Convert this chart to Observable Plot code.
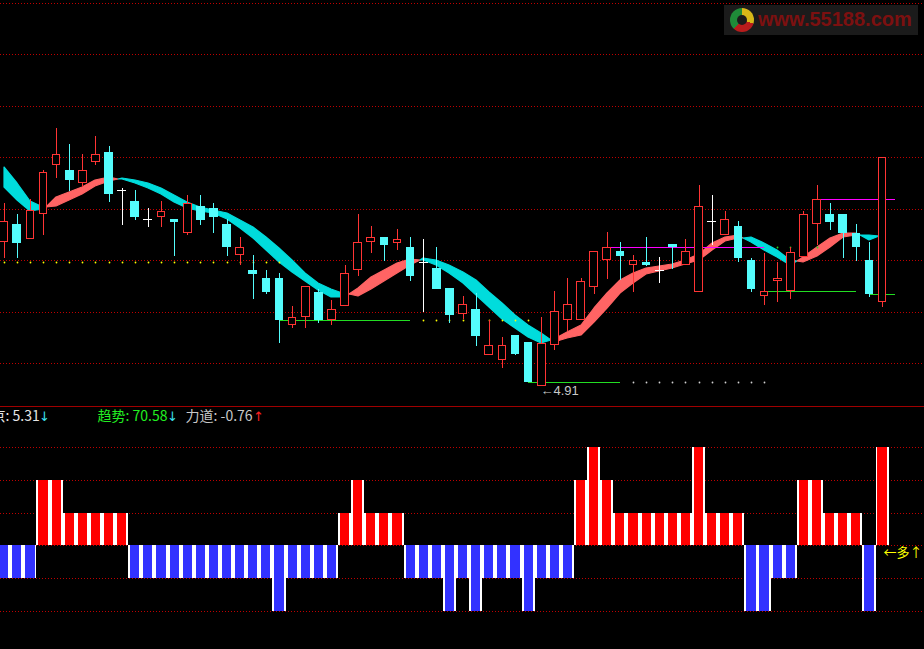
<!DOCTYPE html>
<html><head><meta charset="utf-8">
<script src="https://cdn.jsdelivr.net/npm/d3@7"></script>
<script src="https://cdn.jsdelivr.net/npm/@observablehq/plot@0.6"></script>
<style>
html,body{margin:0;padding:0;background:#000;}
#wrap{position:relative;width:924px;height:649px;overflow:hidden;background:#000;}
#main{position:absolute;left:0;top:0;width:924px;height:406px;}
#sub{position:absolute;left:0;top:406px;width:924px;height:242px;border-top:1px solid #a00000;}
#wm{position:absolute;left:724px;top:5px;width:194px;height:30px;background:#1b1b1b;}
#wm .logo{position:absolute;left:6px;top:3px;width:24px;height:24px;border-radius:50%;
 background:conic-gradient(#d8b818 0 30%, #b81c1c 0 62%, #1f8a38 0 100%);}
#wm .logo:after{content:"";position:absolute;left:7px;top:7px;width:10px;height:10px;border-radius:50%;background:#1b1b1b;}
#wm .txt{position:absolute;left:34px;top:3px;font:bold 20px "Liberation Sans",Arial,sans-serif;color:#7c1010;}
svg{display:block;}
</style></head>
<body><div id="wrap"><div id="main"></div><div id="sub"></div>
<div id="wm"><div class="logo"></div><div class="txt">www.55188.com</div></div></div>
<script>
// ---------------- data ----------------
const open  = [5.190,5.226,5.196,5.244,5.340,5.330,5.305,5.345,5.365,5.291,5.270,5.235,5.240,5.235,5.209,5.260,5.256,5.226,5.165,5.136,5.121,5.121,5.030,5.044,5.094,5.040,5.066,5.136,5.190,5.200,5.189,5.181,5.151,5.140,5.101,5.050,5.060,4.971,4.961,5.010,4.996,4.910,4.990,5.040,5.040,5.104,5.155,5.174,5.145,5.152,5.136,5.187,5.145,5.094,5.231,5.205,5.222,5.156,5.085,5.114,5.095,5.161,5.225,5.245,5.245,5.209,5.156,5.075];
const high  = [5.266,5.245,5.275,5.330,5.412,5.381,5.361,5.396,5.377,5.295,5.292,5.256,5.270,5.235,5.282,5.282,5.266,5.235,5.200,5.165,5.136,5.130,5.066,5.105,5.099,5.078,5.145,5.245,5.222,5.200,5.216,5.200,5.196,5.181,5.101,5.085,5.092,5.040,5.006,5.010,4.996,5.045,5.095,5.121,5.121,5.174,5.210,5.191,5.165,5.200,5.161,5.187,5.196,5.301,5.282,5.250,5.231,5.160,5.169,5.152,5.180,5.251,5.301,5.266,5.245,5.226,5.191,5.355];
const low   = [5.160,5.160,5.196,5.204,5.315,5.290,5.297,5.340,5.269,5.224,5.234,5.220,5.220,5.164,5.205,5.224,5.209,5.163,5.145,5.079,5.090,4.995,5.024,5.024,5.034,5.030,5.066,5.125,5.170,5.154,5.175,5.114,5.055,5.100,5.034,5.042,4.989,4.971,4.945,4.971,4.919,4.910,4.980,5.018,5.040,5.090,5.119,5.117,5.094,5.144,5.110,5.139,5.145,5.094,5.185,5.205,5.151,5.094,5.068,5.075,5.079,5.161,5.185,5.214,5.160,5.154,5.084,5.065];
const close = [5.231,5.189,5.253,5.326,5.361,5.310,5.330,5.361,5.284,5.291,5.240,5.235,5.250,5.230,5.266,5.234,5.240,5.180,5.180,5.129,5.094,5.040,5.045,5.105,5.040,5.060,5.130,5.190,5.200,5.185,5.196,5.125,5.151,5.100,5.049,5.070,5.009,4.991,4.990,4.974,4.919,4.995,5.056,5.070,5.114,5.174,5.180,5.164,5.155,5.145,5.136,5.181,5.174,5.260,5.231,5.235,5.160,5.100,5.095,5.121,5.171,5.244,5.275,5.230,5.209,5.180,5.090,5.355];
// ribbon: fast and slow average
const fast = [5.298,5.272,5.251,5.254,5.277,5.288,5.298,5.311,5.316,5.312,5.305,5.295,5.284,5.269,5.257,5.251,5.246,5.235,5.217,5.198,5.175,5.152,5.133,5.114,5.097,5.084,5.083,5.101,5.123,5.136,5.149,5.158,5.156,5.146,5.130,5.110,5.088,5.065,5.042,5.023,5.007,4.995,5.002,5.016,5.029,5.062,5.091,5.117,5.130,5.141,5.144,5.147,5.156,5.167,5.188,5.201,5.204,5.191,5.175,5.162,5.146,5.161,5.181,5.198,5.209,5.209,5.194,5.204];
const slow = [5.337,5.305,5.270,5.259,5.260,5.272,5.284,5.299,5.309,5.315,5.311,5.305,5.296,5.282,5.268,5.259,5.253,5.246,5.233,5.220,5.201,5.178,5.156,5.130,5.110,5.099,5.090,5.086,5.099,5.114,5.130,5.146,5.160,5.156,5.146,5.133,5.117,5.094,5.072,5.049,5.029,5.013,4.996,5.004,5.010,5.036,5.062,5.091,5.110,5.128,5.135,5.141,5.148,5.156,5.175,5.193,5.198,5.200,5.188,5.175,5.156,5.152,5.163,5.181,5.200,5.204,5.204,5.201];
// lower panel signal
const signal = [-1,-1,-1,2,2,1,1,1,1,1,-1,-1,-1,-1,-1,-1,-1,-1,-1,-1,-1,-2,-1,-1,-1,-1,1,2,1,1,1,-1,-1,-1,-2,-1,-2,-1,-1,-1,-2,-1,-1,-1,2,3,2,1,1,1,1,1,1,3,1,1,1,-2,-2,-1,-1,2,2,1,1,1,-2,3];
// support (green), resistance (magenta) lines and dotted continuations
const supportStart = [21,40,58,66], supportEnd = [31,47,65,68], supportPrice = [5.040,4.919,5.095,5.090];
const resistStart = [46,62], resistEnd = [58,68], resistPrice = [5.180,5.275];
const dotStart = [0,32,48,59], dotEnd = [21,40,58,62], dotPrice = [5.152,5.040,4.919,5.180];
const dotColor = ["#ffff00","#ffff00","#d0d0d0","#22dd22"];
// grids / ticks
const priceGrid = [4.955,5.055,5.155,5.255,5.355,5.455,5.555,5.655];
const signalGrid = [3,2,1,0,-1,-2];
const headerNames = ["京","趋势","力道"], headerValues = [5.31,70.58,-0.76], headerArrows = ["↓","↓","↑"];

// ---------------- build ----------------
const N = open.length;
const idx = d3.range(N);
const RED = "#ff3434", CYAN = "#54fcfc", SALMON = "#ff6464", BCYAN = "#00dcdc";
const candles = idx.map(i => ({i, open: open[i], high: high[i], low: low[i], close: close[i]}));
const colorOf = d => d.close > d.open ? RED : d.close < d.open ? CYAN : "#ffffff";
const ups = candles.filter(d => d.close > d.open);
const downs = candles.filter(d => d.close < d.open);
const flats = candles.filter(d => d.close === d.open);

// ribbon segments by which average is on top
const band = idx.map(i => ({x: i, fast: fast[i], slow: slow[i], up: fast[i] >= slow[i]}));
const segs = [];
let cur = [band[0]];
for (let k = 1; k < N; k++) {
  const a = band[k-1], b = band[k];
  if (a.up !== b.up) {
    const da = a.fast - a.slow, db = b.fast - b.slow, t = da / (da - db);
    const c = {x: a.x + t, fast: a.fast + t*(b.fast-a.fast), slow: a.slow + t*(b.slow-a.slow)};
    cur.push(c); segs.push({up: a.up, pts: cur}); cur = [c, b];
  } else cur.push(b);
}
segs.push({up: band[N-1].up, pts: cur});

const supports = supportStart.map((s,k) => ({s, e: supportEnd[k], p: supportPrice[k]}));
const resists = resistStart.map((s,k) => ({s, e: resistEnd[k], p: resistPrice[k]}));
const dots = dotStart.flatMap((s,k) => d3.range(s, dotEnd[k]+1).map(i => ({i, p: dotPrice[k], c: dotColor[k]})));
const lowest = candles.reduce((m,d) => d.low < m.low ? d : m, candles[0]);

const xDomain = [-0.282, 70.198];
const GRID = "#c00000";
const HW = 0.33;

const main = Plot.plot({
  width: 924, height: 406, margin: 0,
  x: {type: "linear", domain: xDomain, axis: null, round: true},
  y: {domain: [4.8721, 5.6605], axis: null, round: true},
  color: {type: "identity"},
  style: {background: "#000", overflow: "visible"},
  marks: [
    Plot.ruleY(priceGrid, {stroke: GRID, strokeDasharray: "1,2"}),
    ...segs.map(s => Plot.areaY(s.pts, {x: "x", y1: "fast", y2: "slow", fill: s.up ? SALMON : BCYAN, stroke: s.up ? SALMON : BCYAN, strokeWidth: 1.2})),
    Plot.dot(dots, {x: "i", y: "p", r: 0.9, fill: "c", stroke: null}),
    Plot.ruleY(supports, {y: "p", x1: "s", x2: "e", stroke: "#22dd22"}),
    Plot.ruleY(resists, {y: "p", x1: "s", x2: "e", stroke: "#ff00ff"}),
    Plot.ruleX(candles, {x: "i", y1: "low", y2: "high", stroke: colorOf}),
    // up candles: hollow red body (red block with black inside)
    Plot.rect(ups, {x1: d => d.i - HW, x2: d => d.i + HW, y1: "open", y2: "close", fill: RED}),
    Plot.rect(ups, {x1: d => d.i - HW, x2: d => d.i + HW, y1: "open", y2: "close", fill: "#000", inset: 1}),
    // down candles: solid cyan body
    Plot.rect(downs, {x1: d => d.i - HW, x2: d => d.i + HW, y1: "open", y2: "close", fill: CYAN}),
    Plot.ruleY(flats, {y: "close", x1: d => d.i - 0.35, x2: d => d.i + 0.35, stroke: "#ffffff"}),
    Plot.text([lowest], {x: "i", y: "low", text: d => "←" + d.low.toFixed(2), textAnchor: "start", lineAnchor: "middle", dx: -1, dy: 4, fill: "#c8c8c8", fontSize: 13, fontFamily: "Liberation Sans, Arial, sans-serif"})
  ]
});
document.getElementById("main").appendChild(main);

const bars = idx.map(i => ({i, v: signal[i]}));
const CJK = "Noto Sans CJK SC, sans-serif";
const headerX = [-9, 97, 185], arrowX = [44, 172, 258];
const headerFill = ["#e6e6e6", "#22ee22", "#c8c8c8"], arrowFill = ["#3ce0f0", "#3ce0f0", "#ff2020"];
const sub = Plot.plot({
  width: 924, height: 242, margin: 0,
  x: {type: "linear", domain: xDomain, axis: null, round: true},
  y: {domain: [-3.146, 4.2097], axis: null, round: true},
  color: {type: "identity"},
  style: {background: "#000", overflow: "visible"},
  marks: [
    Plot.ruleY(signalGrid, {stroke: GRID, strokeDasharray: "1,2"}),
    Plot.rect(bars, {x1: d => d.i - 0.5, x2: d => d.i + 0.5, y1: 0, y2: "v", fill: "#ffffff"}),
    Plot.rect(bars, {x1: d => d.i - 0.35, x2: d => d.i + 0.35, y1: 0, y2: "v", fill: d => d.v > 0 ? "#ff0000" : "#3232ff"}),
    Plot.text([bars[N-1]], {x: "i", y: 0, text: () => "←多↑", textAnchor: "start", lineAnchor: "middle", dx: 1, dy: 7, fill: "#ffff00", fontSize: 13, fontFamily: CJK}),
    ...headerNames.map((n,k) => Plot.text([n + ": " + headerValues[k].toFixed(2)], {frameAnchor: "top-left", dx: headerX[k], dy: 13, lineAnchor: "bottom", textAnchor: "start", fill: headerFill[k], fontSize: 14, fontFamily: CJK})),
    ...headerArrows.map((a,k) => Plot.text([a], {frameAnchor: "top-left", dx: arrowX[k], dy: 13, lineAnchor: "bottom", textAnchor: "middle", fill: arrowFill[k], fontSize: 13, fontFamily: "DejaVu Sans, sans-serif"}))
  ]
});
document.getElementById("sub").appendChild(sub);
</script></body></html>
